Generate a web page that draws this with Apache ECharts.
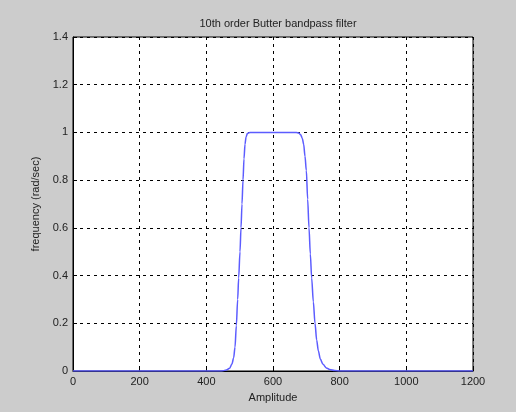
<!DOCTYPE html>
<html>
<head>
<meta charset="utf-8">
<script src="https://cdn.jsdelivr.net/npm/echarts@6/dist/echarts.min.js"></script>
<style>
html,body{margin:0;padding:0;background:#cccccc;}
#c{width:516px;height:412px;}
</style>
</head>
<body>
<div id="c"></div>
<script>
const titleText = '10th order Butter bandpass filter';
const xLabel = 'Amplitude';
const yLabel = 'frequency (rad/sec)';
const xs = [0, 50, 100, 200, 300, 400, 440, 450, 460, 470, 477, 482, 486, 490, 494, 497, 501, 504, 507, 510, 513, 516, 519, 523, 528, 535, 600, 670, 677, 683, 688, 692, 696, 700, 704, 708, 712, 716, 721, 726, 731, 736, 742, 750, 760, 770, 785, 800, 900, 1000, 1100, 1200];
const ys = [0, 0, 0, 0, 0, 0, 0, 0.001, 0.004, 0.012, 0.03, 0.056, 0.1, 0.19, 0.3, 0.39, 0.5, 0.6, 0.7, 0.8, 0.89, 0.95, 0.98, 0.995, 0.999, 1, 1, 1, 0.998, 0.99, 0.975, 0.95, 0.9, 0.84, 0.72, 0.6, 0.49, 0.39, 0.29, 0.2, 0.13, 0.085, 0.05, 0.028, 0.013, 0.006, 0.002, 0, 0, 0, 0, 0];
const data = xs.map((x, i) => [x, ys[i]]);

const chart = echarts.init(document.getElementById('c'));
const font = 'Liberation Sans, Arial, sans-serif';
chart.setOption({
  backgroundColor: '#cccccc',
  animation: false,
  title: {
    text: titleText, left: 273, top: 13, textAlign: 'center',
    textStyle: {fontFamily: font, fontSize: 11, fontWeight: 'normal', color: '#222'}
  },
  grid: {left: 73, right: 43, top: 37, bottom: 41, show: true, backgroundColor: '#ffffff', borderColor: '#000', borderWidth: 1},
  xAxis: {
    type: 'value', min: 0, max: 1200, interval: 200,
    name: xLabel, nameLocation: 'middle', nameGap: 21,
    nameTextStyle: {fontFamily: font, fontSize: 11, color: '#222'},
    axisLine: {show: true, lineStyle: {color: '#000'}},
    axisTick: {show: true, inside: true, length: 4, lineStyle: {color: '#000'}},
    axisLabel: {fontFamily: font, fontSize: 11, color: '#222', margin: 5, formatter: v => String(v)},
    splitLine: {show: true, lineStyle: {color: '#000', type: [3, 4], width: 1}}
  },
  yAxis: {
    type: 'value', min: 0, max: 1.4, interval: 0.2,
    name: yLabel, nameLocation: 'middle', nameGap: 30,
    nameTextStyle: {fontFamily: font, fontSize: 11, color: '#222'},
    axisLine: {show: true, lineStyle: {color: '#000'}},
    axisTick: {show: true, inside: true, length: 4, lineStyle: {color: '#000'}},
    axisLabel: {fontFamily: font, fontSize: 11, color: '#222', margin: 5,
      formatter: v => String(Math.round(v * 10) / 10)},
    splitLine: {show: true, lineStyle: {color: '#000', type: [3, 4], width: 1}}
  },
  series: [{
    type: 'line', data: data, showSymbol: false, smooth: 0.3, smoothMonotone: 'x',
    lineStyle: {color: '#5c5cff', width: 1.5}, z: 5
  }]
});
</script>
</body>
</html>
